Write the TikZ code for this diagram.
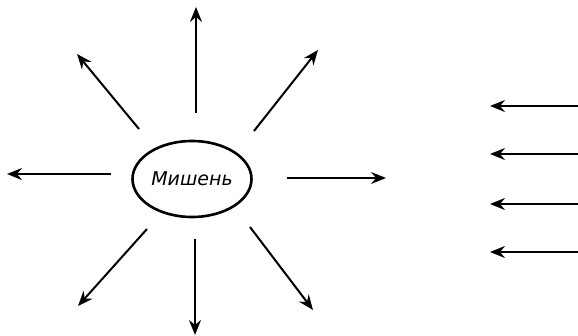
\documentclass[tikz,border=0pt]{standalone}
\usepackage{fontspec}
\newfontfamily\labelfont{DejaVu Sans}
\usetikzlibrary{shapes.geometric,arrows.meta}
\tikzset{
  ray/.style={line width=2pt,-{Stealth[length=15pt,width=12pt,inset=5pt]}},
  target/.style={ellipse,draw,line width=2.6pt,minimum width=119pt,minimum height=76pt,inner sep=0pt,font=\labelfont\itshape\fontsize{19}{19}\selectfont}
}
\begin{document}
\begin{tikzpicture}[x=1pt,y=-1pt]
  \useasboundingbox (0,0) rectangle (578,336);
  % the target
  \node[target] (mishen) at (192,179) {Мишень};
  % rays leaving the target
  \coordinate (nS) at (196,113);  \coordinate (nE) at (196,7);
  \coordinate (neS) at (254,131); \coordinate (neE) at (318,50);
  \coordinate (eS) at (287,178);  \coordinate (eE) at (386,178);
  \coordinate (seS) at (250,227); \coordinate (seE) at (313,310);
  \coordinate (sS) at (195,239);  \coordinate (sE) at (195,335);
  \coordinate (swS) at (147,229); \coordinate (swE) at (78,306);
  \coordinate (wS) at (111,174);  \coordinate (wE) at (7,174);
  \coordinate (nwS) at (139,129); \coordinate (nwE) at (77,54);
  \foreach \d in {n,ne,e,se,s,sw,w,nw}
    \draw[ray] (\d S) -- (\d E);
  % incoming beam
  \foreach \i/\y in {1/106,2/154,3/204,4/252} {
    \coordinate (in\i) at (578,\y);
    \coordinate (out\i) at (490,\y);
    \draw[ray] (in\i) -- (out\i);
  }
\end{tikzpicture}
\end{document}
